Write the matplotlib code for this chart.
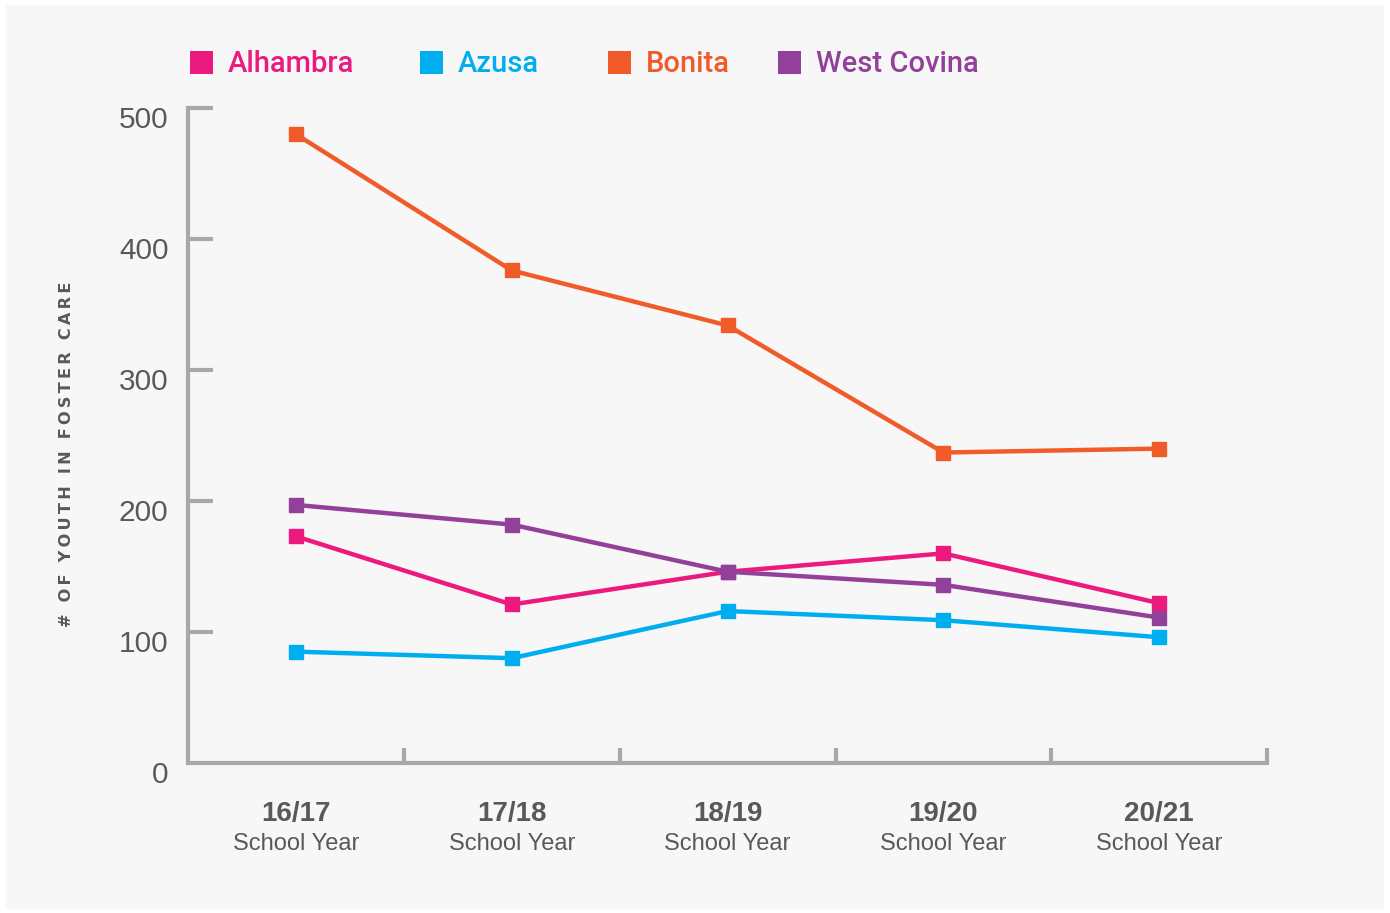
import matplotlib.pyplot as plt
import matplotlib.transforms as mtrans
from matplotlib.patches import Rectangle
from matplotlib.transforms import blended_transform_factory

# Youth in foster care by district and school year
years = ["16/17", "17/18", "18/19", "19/20", "20/21"]
alhambra = [173, 121, 146, 160, 122]
azusa = [85, 80, 116, 109, 96]
bonita = [480, 376, 334, 237, 240]
west_covina = [197, 182, 146, 136, 111]

names = ["Alhambra", "Azusa", "Bonita", "West Covina"]
colors = ["#EC1A7E", "#00AEEF", "#F15A29", "#93409A"]
series = [alhambra, azusa, bonita, west_covina]

axis_gray = "#A7A8AB"
text_gray = "#58595B"

fig = plt.figure(figsize=(13.9, 9.13), dpi=100)
fig.patch.set_facecolor("white")
fig.patches.append(Rectangle((0.004, 0.004), 0.992, 0.99, transform=fig.transFigure,
                             facecolor="#F7F7F7", edgecolor="none", zorder=-10))

ax = fig.add_axes([0.1353, 0.1643, 0.7763, 0.7174])
ax.set_facecolor("none")

x = list(range(len(years)))
for vals, c in zip(series, colors):
    ax.plot(x, vals, color=c, lw=3.2, marker="s", markersize=10,
            solid_joinstyle="miter")

ax.set_xlim(-0.5, 4.5)
ax.set_ylim(0, 500)

for s in ["top", "right"]:
    ax.spines[s].set_visible(False)
for s in ["left", "bottom"]:
    ax.spines[s].set_color(axis_gray)
    ax.spines[s].set_linewidth(3)

ax.set_yticks([0, 100, 200, 300, 400, 500])
ax.set_yticklabels(["0", "100", "200", "300", "400", "500"])
ax.tick_params(axis="y", direction="in", length=18, width=3, color=axis_gray,
               labelsize=21.5, labelcolor=text_gray, pad=14)
ax.yaxis.get_major_ticks()[0].tick1line.set_visible(False)

# y labels sit a little below their ticks
offset = mtrans.ScaledTranslation(0, -0.09, fig.dpi_scale_trans)
for lbl in ax.get_yticklabels():
    lbl.set_fontfamily("Liberation Sans")
    lbl.set_transform(lbl.get_transform() + offset)

ax.set_xticks([0.5, 1.5, 2.5, 3.5, 4.5])
ax.set_xticklabels([])
ax.tick_params(axis="x", direction="in", length=11, width=3, color=axis_gray)

trans = blended_transform_factory(ax.transData, ax.transAxes)
for i, yr in enumerate(years):
    ax.text(i, -0.078, yr, transform=trans, ha="center", va="center",
            fontsize=20, fontweight="bold", color=text_gray, family="Liberation Sans")
    ax.text(i, -0.124, "School Year", transform=trans, ha="center", va="center",
            fontsize=17, color=text_gray, family="Liberation Sans")

ylabel = "\u2009".join("# OF YOUTH IN FOSTER CARE")
fig.text(0.048, 0.502, ylabel, rotation=90, ha="center", va="center",
         fontsize=11.6, fontweight="bold", color=text_gray, family="DejaVu Sans")

# legend
leg_x = [0.1367, 0.3022, 0.4374, 0.5597]
for xi, name, c in zip(leg_x, names, colors):
    fig.patches.append(Rectangle((xi, 0.919), 0.0165, 0.0252, transform=fig.transFigure,
                                 facecolor=c, edgecolor="none"))
    fig.text(xi + 0.027, 0.930, name, ha="left", va="center", fontsize=21,
             fontweight="medium", color=c, family=["Roboto", "Liberation Sans"])

fig.savefig("out.png", dpi=100, facecolor=fig.get_facecolor())
